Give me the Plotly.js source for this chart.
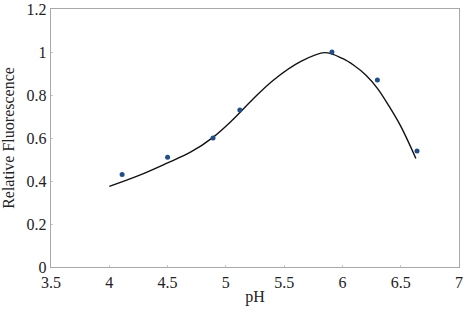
<!DOCTYPE html>
<html>
<head>
<meta charset="utf-8">
<script src="https://cdn.plot.ly/plotly-3.0.1.min.js"></script>
<style>html,body{margin:0;padding:0;background:#fff;}#chart{width:466px;height:310px;}</style>
</head>
<body>
<div id="chart"></div>
<script>
// Measured data points
const pointPH = [4.11, 4.50, 4.89, 5.12, 5.91, 6.30, 6.64];
const pointFluor = [0.43, 0.51, 0.60, 0.73, 1.00, 0.87, 0.54];
// Fitted curve
const curvePH = [4.0, 4.25, 4.49, 4.7, 4.89, 5.05, 5.24, 5.41, 5.64, 5.85, 6.0, 6.1, 6.2, 6.3, 6.4, 6.5, 6.63];
const curveFluor = [0.375, 0.425, 0.482, 0.535, 0.603, 0.68, 0.785, 0.870, 0.955, 0.997, 0.970, 0.937, 0.893, 0.831, 0.748, 0.655, 0.505];
const xTicks = [3.5, 4, 4.5, 5, 5.5, 6, 6.5, 7];
const yTicks = [0, 0.2, 0.4, 0.6, 0.8, 1, 1.2];

const font = {family: 'Times New Roman', size: 16, color: '#222'};

const traces = [
  {x: curvePH, y: curveFluor, mode: 'lines', line: {color: '#111', width: 1.4, shape: 'spline', smoothing: 1}, hoverinfo: 'skip'},
  {x: pointPH, y: pointFluor, mode: 'markers', marker: {color: '#1f4e8c', size: 5}}
];

const axisCommon = {
  showgrid: false, zeroline: false, showline: true, mirror: true,
  linecolor: '#a8a8a8', linewidth: 1.3,
  ticks: 'inside', ticklen: 2, tickcolor: '#c8c8c8',
  tickfont: font
};

const layout = {
  width: 466, height: 310,
  margin: {l: 51, r: 7, t: 9, b: 43},
  paper_bgcolor: '#fff', plot_bgcolor: '#fff',
  showlegend: false,
  font: font,
  xaxis: Object.assign({}, axisCommon, {
    range: [3.5, 7], tickvals: xTicks, ticktext: xTicks.map(String),
    title: {text: 'pH', font: font, standoff: 1}
  }),
  yaxis: Object.assign({}, axisCommon, {
    range: [0, 1.2], tickvals: yTicks, ticktext: yTicks.map(String),
    title: {text: 'Relative Fluorescence', font: font, standoff: 8}
  })
};

Plotly.newPlot('chart', traces, layout, {displayModeBar: false, staticPlot: true});
</script>
</body>
</html>
